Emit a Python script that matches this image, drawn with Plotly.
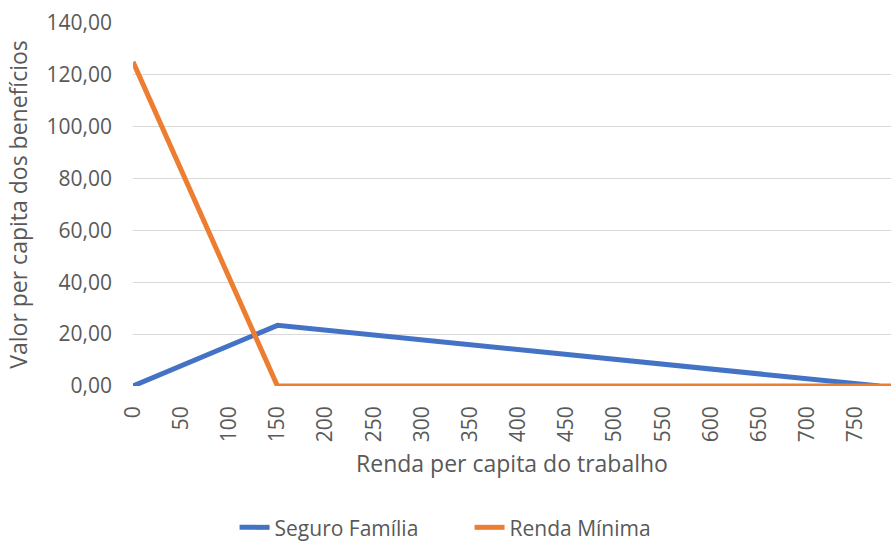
import plotly.graph_objects as go

renda_sf = [0, 150, 775]
seguro_familia = [0, 23.4, 0]
renda_rm = [0, 150, 787]
renda_minima = [125, 0, 0]
x_ticks = list(range(0, 800, 50))
y_ticks = [0, 20, 40, 60, 80, 100, 120, 140]

FONT = "Open Sans"
GRAY = "#595959"

fig = go.Figure()
fig.add_trace(go.Scatter(x=renda_sf, y=seguro_familia, mode="lines",
                         name="Seguro Família", line=dict(color="#4472C4", width=5)))
fig.add_trace(go.Scatter(x=renda_rm, y=renda_minima, mode="lines",
                         name="Renda Mínima", line=dict(color="#ED7D31", width=5)))

fig.update_layout(
    width=891, height=544,
    margin=dict(l=133, r=0, t=23, b=158),
    plot_bgcolor="white", paper_bgcolor="white",
    font=dict(family=FONT, color=GRAY, size=21),
    showlegend=True,
    legend=dict(orientation="h", xref="container", yref="container",
                x=0.527, xanchor="center", y=0.03, yanchor="middle",
                entrywidth=190, entrywidthmode="pixels",
                font=dict(size=21, color=GRAY), itemwidth=30),
    xaxis=dict(range=[0, 787], tickvals=x_ticks, ticktext=[str(v) for v in x_ticks],
               tickangle=-90, showgrid=False, zeroline=False, showline=False,
               ticks="", tickfont=dict(size=21, color=GRAY), automargin=False,
               ticklabelstandoff=15,
               title=dict(text="Renda per capita do trabalho", standoff=14,
                          font=dict(size=23, color=GRAY))),
    yaxis=dict(range=[0, 140], tickvals=y_ticks,
               ticktext=[f"{v},00" for v in y_ticks],
               showgrid=True, gridcolor="#D9D9D9", gridwidth=1,
               zeroline=False, showline=False, ticks="", automargin=False,
               ticklabelstandoff=20,
               tickfont=dict(size=21, color=GRAY),
               title=dict(text="Valor per capita dos benefícios", standoff=12,
                          font=dict(size=23, color=GRAY))),
)

fig.write_html("out.html", config={"displayModeBar": False},
               post_script="document.body.style.margin='0px';")
